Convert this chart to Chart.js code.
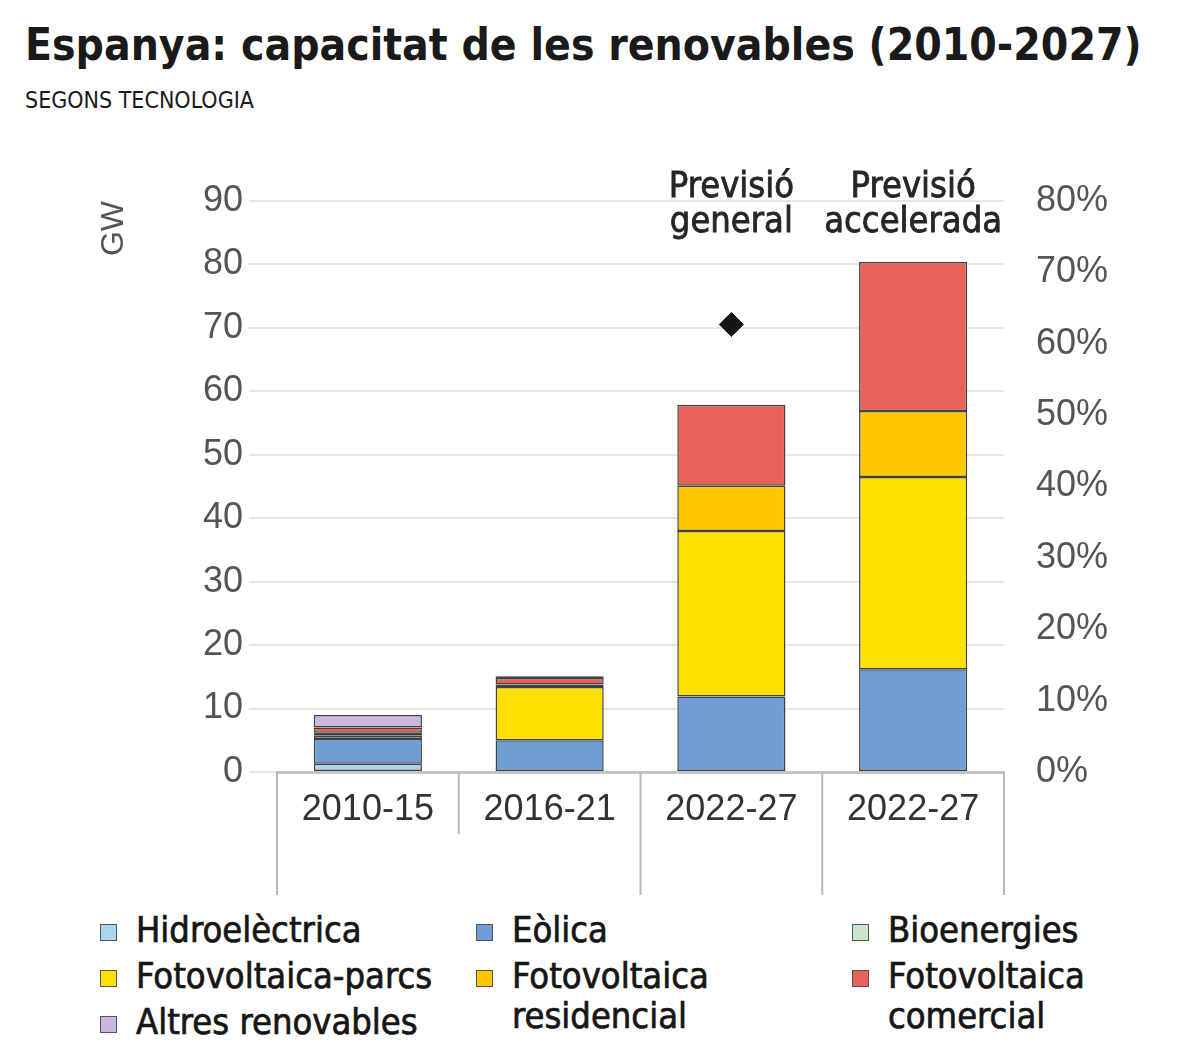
<!DOCTYPE html>
<html lang="ca">
<head>
<meta charset="utf-8">
<title>Espanya: capacitat de les renovables (2010-2027)</title>
<script src="https://cdn.jsdelivr.net/npm/chart.js@4.4.1/dist/chart.umd.min.js"></script>
<style>
  html, body { margin: 0; padding: 0; background: #fff; }
  body {
    width: 1200px; height: 1062px; position: relative; overflow: hidden;
    font-family: "DejaVu Sans Condensed", "DejaVu Sans", sans-serif; color: #1a1a1a;
  }
  h1 { position: absolute; left: 25px; top: 20px; margin: 0; font-size: 44px; line-height: 50px; font-weight: bold; white-space: nowrap; }
  .sub { position: absolute; left: 25px; top: 86px; font-size: 23px; line-height: 28px; }
  .chart { position: absolute; left: 0; top: 0; width: 1200px; height: 900px; }
  #legend { position: absolute; left: 100px; top: 910px; display: flex; }
  .col { width: 376px; }
  .item {
    display: flex; align-items: flex-start; font-size: 36px; line-height: 40px; margin-bottom: 6px;
    color: #161616; -webkit-text-stroke: 0.7px #161616;
  }
  .sw { width: 15px; height: 15px; border: 1.5px solid #555; margin: 14px 19px 0 0; flex: none; }
</style>
</head>
<body>
<h1>Espanya: capacitat de les renovables (2010-2027)</h1>
<div class="sub">SEGONS TECNOLOGIA</div>
<div class="chart"><canvas id="chart" width="1200" height="900"></canvas></div>
<div id="legend"></div>
<script>
// categories and the little headings above the forecast bars
const categories = ["2010-15", "2016-21", "2022-27", "2022-27"];
const notes = [null, null, ["Previsió", "general"], ["Previsió", "accelerada"]];
const groupStarts = [0, 2, 3]; // where the axis box gets a full-height divider

// GW per technology (bottom of stack first)
const hidro       = [1.3, null, null, null];
const eolica      = [3.9, 5.0, 11.9, 16.2];
const bio         = [0.5, null, null, null];
const fvParcs     = [0.5, 8.4, 26.1, 30.3];
const fvResid     = [null, 0.4, 7.1, 10.4];
const fvComercial = [0.8, 1.0, 12.8, 23.5];
const altres      = [2.0, 0.3, null, null];

// share on the right axis (%)
const quota = [null, null, 62.7, null];

const gwMax = 90, pctMax = 80, tickStep = 10;

const series = [
  { label: "Hidroelèctrica", data: hidro, color: "#a8d6ef" },
  { label: "Eòlica", data: eolica, color: "#6e9ed4" },
  { label: "Bioenergies", data: bio, color: "#c9e5cb" },
  { label: "Fotovoltaica-parcs", data: fvParcs, color: "#ffe100" },
  { label: "Fotovoltaica residencial", data: fvResid, color: "#ffc700" },
  { label: "Fotovoltaica comercial", data: fvComercial, color: "#e8625a" },
  { label: "Altres renovables", data: altres, color: "#cdb6de" },
];
const legendColumns = [[0, 3, 6], [1, 4], [2, 5]];

const tickFont = { family: "'Liberation Sans', Arial, sans-serif", size: 36 };

const extras = {
  id: "extras",
  afterDraw(chart) {
    const { ctx, chartArea } = chart;
    const x = chart.scales.x;
    const n = categories.length;
    const half = (x.getPixelForValue(1) - x.getPixelForValue(0)) / 2;
    ctx.save();
    ctx.strokeStyle = "#b8b8b8";
    ctx.lineWidth = 2;
    for (let i = 0; i <= n; i++) {
      const px = i < n ? x.getPixelForValue(i) - half : x.getPixelForValue(n - 1) + half;
      const len = (groupStarts.includes(i) || i === n) ? 123 : 62;
      ctx.beginPath();
      ctx.moveTo(px, chartArea.bottom);
      ctx.lineTo(px, chartArea.bottom + len);
      ctx.stroke();
    }
    ctx.fillStyle = "#262626";
    ctx.strokeStyle = "#262626";
    ctx.lineWidth = 0.8;
    ctx.font = "36px 'DejaVu Sans Condensed', 'DejaVu Sans', sans-serif";
    ctx.textAlign = "center";
    ctx.textBaseline = "alphabetic";
    notes.forEach((lines, i) => {
      if (!lines) return;
      lines.forEach((t, k) => {
        const ty = chartArea.top - 4 + k * 35;
        ctx.fillText(t, x.getPixelForValue(i), ty);
        ctx.strokeText(t, x.getPixelForValue(i), ty);
      });
    });
    ctx.restore();
  }
};

const datasets = series.map((s) => ({
  type: "bar",
  label: s.label,
  data: s.data,
  backgroundColor: s.color,
  borderColor: "#414141",
  borderWidth: 1.5,
  borderSkipped: false,
  yAxisID: "y",
  categoryPercentage: 1,
  barPercentage: 0.595,
}));
datasets.push({
  type: "line",
  label: "Quota",
  data: quota,
  yAxisID: "y1",
  showLine: false,
  pointStyle: "rectRot",
  pointRadius: 12,
  pointBackgroundColor: "#141414",
  pointBorderColor: "#141414",
  order: -1,
});

new Chart(document.getElementById("chart"), {
  data: { labels: categories, datasets },
  plugins: [extras],
  options: {
    responsive: false,
    animation: false,
    layout: { padding: { top: 201, left: 95, right: 0, bottom: 0 } },
    plugins: { legend: { display: false }, tooltip: { enabled: false } },
    scales: {
      x: {
        stacked: true,
        offset: true,
        grid: { display: false, drawTicks: false },
        border: { display: true, color: "#c4c4c4", width: 3 },
        ticks: { padding: 16, color: "#333", font: tickFont, maxRotation: 0, autoSkip: false },
        afterFit: (s) => { s.height = 128; },
      },
      y: {
        stacked: true,
        min: 0,
        max: gwMax,
        ticks: { stepSize: tickStep, padding: 6, color: "#555", font: tickFont },
        grid: { color: "#e6e6e6", lineWidth: 2, tickLength: 28, tickColor: "#e6e6e6" },
        border: { display: false },
        title: {
          display: true, text: "GW", align: "end", color: "#555",
          font: { family: tickFont.family, size: 32 }, padding: { top: 0, bottom: 0 },
        },
        afterFit: (s) => { s.width = 182; },
      },
      y1: {
        position: "right",
        min: 0,
        max: pctMax,
        ticks: { stepSize: tickStep, padding: 32, color: "#555", font: tickFont, callback: (v) => v + "%" },
        grid: { drawOnChartArea: false, drawTicks: false },
        border: { display: false },
        afterFit: (s) => { s.width = 196; },
      },
    },
  },
});

// legend in three columns, built from the same series
const legend = document.getElementById("legend");
legendColumns.forEach((col) => {
  const c = document.createElement("div");
  c.className = "col";
  col.forEach((idx) => {
    const it = document.createElement("div");
    it.className = "item";
    const sw = document.createElement("span");
    sw.className = "sw";
    sw.style.background = series[idx].color;
    const tx = document.createElement("span");
    tx.textContent = series[idx].label;
    it.appendChild(sw);
    it.appendChild(tx);
    c.appendChild(it);
  });
  legend.appendChild(c);
});
</script>
</body>
</html>
